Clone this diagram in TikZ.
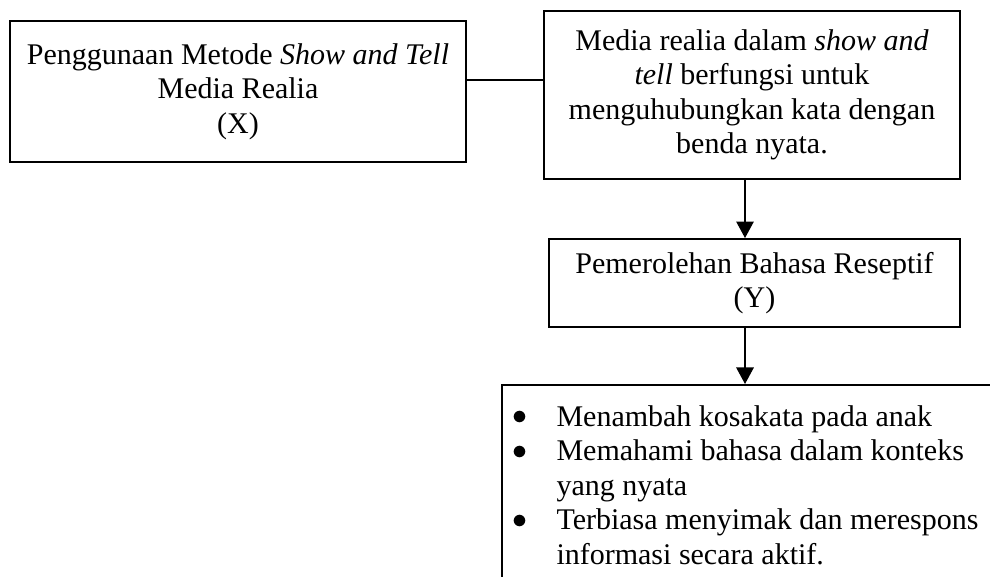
\documentclass[tikz,border=0pt]{standalone}
\usepackage{fontspec}
\setmainfont{Liberation Serif}
\usepackage{tikz}
\usetikzlibrary{arrows.meta,positioning}
\tikzset{
	concept/.style={draw, line width=0.8pt, inner sep=0mm, align=center, font=\fontsize{12}{13.8}\selectfont},
	itemlist/.style={inner sep=0mm, anchor=base west, font=\fontsize{12}{13.8}\selectfont},
	link/.style={line width=0.5pt},
	flow/.style={link, -{Triangle[width=7pt,length=6.6pt]}}
}

\begin{document}
\begin{tikzpicture}[x=0.4pt, y=-0.4pt]
			\useasboundingbox (0,0) rectangle (990,577);
			\clip (0,0) rectangle (990,577);
			
			\node[concept, minimum width=182.4pt, minimum height=56.4pt] (metode) at (238,91.5)
				{Penggunaan Metode \textit{Show and Tell}\\ Media Realia\\ (X)};
			\node[concept, minimum width=166.4pt, minimum height=67.4pt] (media) at (752,94.8)
				{Media realia dalam \textit{show and}\\ \textit{tell} berfungsi untuk\\ menguhubungkan kata dengan\\ benda nyata.};
			\node[concept, below=23.2pt of media, xshift=1pt,
					minimum width=164.4pt, minimum height=35.2pt] (reseptif)
				{Pemerolehan Bahasa Reseptif\\ (Y)};
			
			% Benefit box runs past the page edge, so it is clipped.
			\node[concept, anchor=north west, minimum width=203.6pt, minimum height=86.4pt] (manfaat) at (501,384) {};
			\node[itemlist] (daftar) at ([xshift=4.4pt, yshift=-16.8pt]manfaat.north west) {%
				\begin{tabular}[t]{@{}p{17.6pt}@{}l@{}}
					\raisebox{0.6pt}{$\bullet$} & Menambah kosakata pada anak\\ %daftar-1
					\raisebox{0.6pt}{$\bullet$} & Memahami bahasa dalam konteks\\ %daftar-2
					                            & yang nyata\\
					\raisebox{0.6pt}{$\bullet$} & Terbiasa menyimak dan merespons\\ %daftar-3
					                            & informasi secara aktif.
				\end{tabular}};
			
			\coordinate (garis) at (0,80);
			\coordinate (lajur) at (745,0);
			
			\draw[link] (metode.east |- garis) -- (media.west |- garis);
			\draw[flow] (media.south -| lajur) -- (reseptif.north -| lajur);
			\draw[flow] (reseptif.south -| lajur) -- (manfaat.north -| lajur);
			
		\end{tikzpicture}
\end{document}
